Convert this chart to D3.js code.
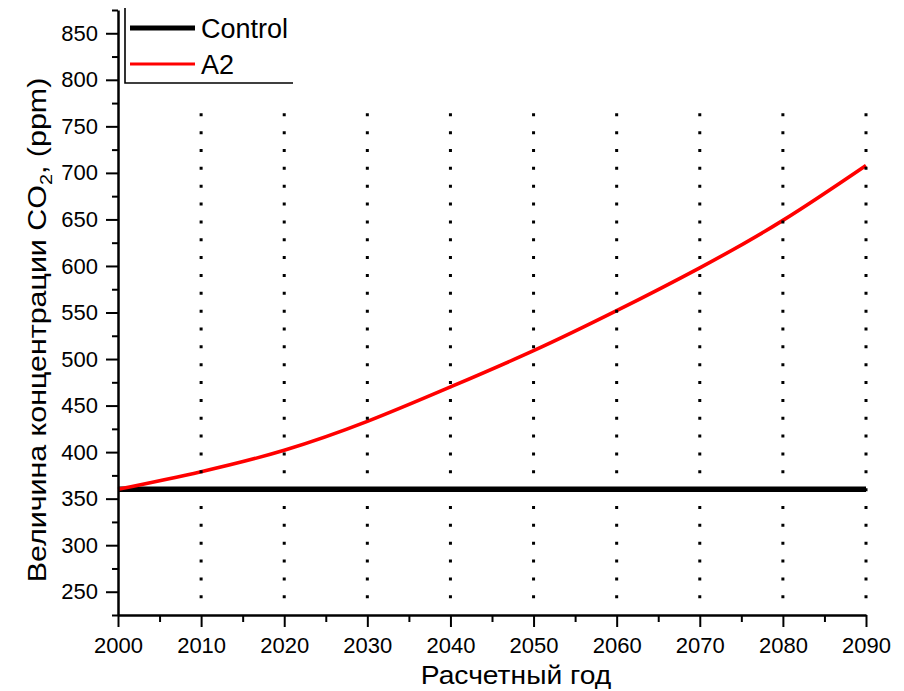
<!DOCTYPE html>
<html>
<head>
<meta charset="utf-8">
<script src="https://cdn.jsdelivr.net/npm/d3@7"></script>
<style>
  html, body { margin: 0; padding: 0; background: #fff; }
  svg { display: block; }
  text { font-family: "Liberation Sans", Arial, sans-serif; fill: #000; }
</style>
</head>
<body>
<svg id="chart" width="904" height="691"></svg>
<script>
// ---- data ----
const years = [2000, 2010, 2020, 2030, 2040, 2050, 2060, 2070, 2080, 2090];
const controlValues = [360, 360, 360, 360, 360, 360, 360, 360, 360, 360];
const a2Values = [360, 379, 402, 433, 470, 509, 552, 598, 649, 708];
const yMajorTicks = [250, 300, 350, 400, 450, 500, 550, 600, 650, 700, 750, 800, 850];
const yMinorTicks = [225, 275, 325, 375, 425, 475, 525, 575, 625, 675, 725, 775, 825, 875];
const xMajorTicks = [2000, 2010, 2020, 2030, 2040, 2050, 2060, 2070, 2080, 2090];
const xMinorTicks = [2005, 2015, 2025, 2035, 2045, 2055, 2065, 2075, 2085];
const gridYears = [2010, 2020, 2030, 2040, 2050, 2060, 2070, 2080, 2090];
const seriesNames = ["Control", "A2"];
const xTitle = "Расчетный год";

// ---- layout ----
const svg = d3.select("#chart");
const x = d3.scaleLinear().domain([2000, 2090]).range([118, 866]);
const y = d3.scaleLinear().domain([225, 875]).range([615, 10]);

const line = d3.line()
  .x((d, i) => x(years[i]))
  .y(d => y(d))
  .curve(d3.curveNatural);

// series
svg.append("path")
  .datum(controlValues)
  .attr("d", line)
  .attr("fill", "none")
  .attr("stroke", "#000")
  .attr("stroke-width", 5.5);

svg.append("path")
  .datum(a2Values)
  .attr("d", line)
  .attr("fill", "none")
  .attr("stroke", "#ff0000")
  .attr("stroke-width", 3.6);

// dotted vertical grid lines
svg.append("g").selectAll("line")
  .data(gridYears)
  .join("line")
  .attr("x1", d => x(d)).attr("x2", d => x(d))
  .attr("y1", y(764)).attr("y2", y(238))
  .attr("stroke", "#000")
  .attr("stroke-width", 3)
  .attr("stroke-dasharray", "3 14.85");

// y axis
const yAxisMajor = d3.axisLeft(y).tickValues(yMajorTicks).tickSize(12).tickSizeOuter(0).tickPadding(8);
const yAxisMinor = d3.axisLeft(y).tickValues(yMinorTicks).tickSize(6).tickFormat("");
const gy = svg.append("g").attr("transform", `translate(${x(2000)},0)`).call(yAxisMajor);
const gyMinor = svg.append("g").attr("transform", `translate(${x(2000)},0)`).call(yAxisMinor);
gyMinor.select(".domain").remove();

// x axis
const xAxisMajor = d3.axisBottom(x).tickValues(xMajorTicks).tickFormat(d3.format("d")).tickSize(12).tickSizeOuter(0).tickPadding(10);
const xAxisMinor = d3.axisBottom(x).tickValues(xMinorTicks).tickSize(7).tickFormat("");
const gx = svg.append("g").attr("transform", `translate(0,${y(225)})`).call(xAxisMajor);
const gxMinor = svg.append("g").attr("transform", `translate(0,${y(225)})`).call(xAxisMinor);
gxMinor.select(".domain").remove();

[gy, gyMinor, gx, gxMinor].forEach(g => {
  g.attr("font-size", 22);
  g.selectAll(".domain").attr("stroke", "#000").attr("stroke-width", 2.5);
  g.selectAll(".tick line").attr("stroke", "#000").attr("stroke-width", 2);
  g.selectAll(".tick text").style("font-size", "22px").attr("fill", "#000");
});

// axis titles
svg.append("text")
  .attr("transform", "translate(516,684) scale(1.13,1)")
  .attr("text-anchor", "middle")
  .style("font-size", "25px")
  .text(xTitle);

const yt = svg.append("text")
  .attr("transform", "translate(46,330) rotate(-90) scale(1.17,1)")
  .attr("text-anchor", "middle")
  .style("font-size", "26px");
yt.append("tspan").text("Величина концентрации CO");
yt.append("tspan").style("font-size", "17px").attr("dy", 6).text("2");
yt.append("tspan").attr("dy", -6).text(", (ppm)");

// legend
const lg = svg.append("g");
lg.append("path")
  .attr("d", "M125,8 V83 H293")
  .attr("fill", "none")
  .attr("stroke", "#000")
  .attr("stroke-width", 1.6);
const legendItems = [
  { name: seriesNames[0], color: "#000", width: 5, ly: 28 },
  { name: seriesNames[1], color: "#ff0000", width: 3, ly: 64 }
];
legendItems.forEach(it => {
  lg.append("line")
    .attr("x1", 130).attr("x2", 195)
    .attr("y1", it.ly).attr("y2", it.ly)
    .attr("stroke", it.color).attr("stroke-width", it.width);
  lg.append("text")
    .attr("x", 201).attr("y", it.ly + 10)
    .style("font-size", "27px")
    .text(it.name);
});
</script>
</body>
</html>
